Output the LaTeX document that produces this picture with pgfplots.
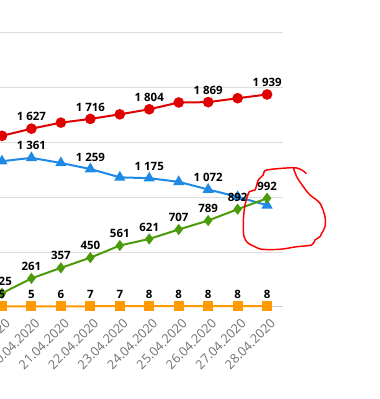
\documentclass[border=0pt]{standalone}
\usepackage{fontspec}
\setmainfont{Open Sans}
\usepackage{pgfplots}
\pgfplotsset{compat=1.18}
\definecolor{cred}{HTML}{E00000}
\definecolor{cblue}{HTML}{1E8AE6}
\definecolor{cgreen}{HTML}{4A9A0A}
\definecolor{corange}{HTML}{FF9A00}
\definecolor{cgrid}{HTML}{DDDDDD}
\definecolor{caxis}{HTML}{C8CCD8}
\definecolor{ctick}{HTML}{707070}
\begin{document}
\begin{tikzpicture}
\clip (0,0) rectangle (284.25pt,299.25pt);
\path[use as bounding box] (0,0) rectangle (284.25pt,299.25pt);
\begin{axis}[
  at={(-9.56pt,69pt)}, anchor=south west,
  scale only axis, width=221.8pt, height=205.5pt,
  xmin=-0.5, xmax=9.54, ymin=0, ymax=2500,
  ytick={0,500,1000,1500,2000,2500}, yticklabels={},
  ymajorgrids, grid style={cgrid, line width=0.75pt},
  axis x line*=bottom, axis y line*=left,
  y axis line style={draw=none},
  x axis line style={caxis, line width=0.75pt, -},
  major tick length=0pt,
  xtick={0,...,9},
  xticklabels={19.04.2020,20.04.2020,21.04.2020,22.04.2020,23.04.2020,24.04.2020,25.04.2020,26.04.2020,27.04.2020,28.04.2020},
  xticklabel style={xshift=4.5pt, yshift=-10.5pt, rotate=45, anchor=east, font=\fontsize{9.5}{10}\selectfont, text=ctick, inner sep=0pt},
  /pgf/number format/assume math mode=true,
  clip=false,
  point meta=explicit symbolic,
  nodes near coords,
  every node near coord/.append style={anchor=center, yshift=9pt, font=\bfseries\fontsize{8.6}{10}\selectfont, text=black},
]
\addplot[cred, line width=1.5pt, mark=*, mark size=3.2pt] coordinates {
 (0,1562) [{}] (1,1627) [1 627] (2,1682) [{}] (3,1716) [1 716] (4,1758) [{}]
 (5,1804) [1 804] (6,1866) [{}] (7,1869) [1 869] (8,1905) [{}] (9,1939) [1 939]
};
\addplot[cblue, line width=1.5pt, mark=triangle*, mark size=3.4pt] coordinates {
 (0,1330) [{}] (1,1361) [1 361] (2,1314) [{}] (3,1259) [1 259] (4,1183) [{}]
 (5,1175) [1 175] (6,1142) [{}] (7,1072) [1 072] (8,1005) [{}] (9,928) [{}]
};
\addplot[cgreen, line width=1.5pt, mark=diamond*, mark size=3pt] coordinates {
 (0,125) [125] (1,261) [261] (2,357) [357] (3,450) [450] (4,561) [561]
 (5,621) [621] (6,707) [707] (7,789) [789] (8,892) [892] (9,992) [992]
};
\addplot[corange, line width=1.5pt, mark=square*, mark size=3pt] coordinates {
 (0,5) [5] (1,5) [5] (2,6) [6] (3,7) [7] (4,7) [7]
 (5,8) [8] (6,8) [8] (7,8) [8] (8,8) [8] (9,8) [8]
};
\end{axis}
\begin{scope}[x=0.75pt, y=-0.75pt, shift={(0,299.25pt)}]
\draw[red, line width=1.1pt, line join=round, line cap=round]
 plot[smooth, tension=0.5] coordinates {
 (306,173.3) (301.7,170) (293.3,167.7) (266.7,170) (263.3,175) (258.3,180)
 (255,190) (249.3,191.7) (245,205) (243.3,221.7) (244,236.7) (248.3,243.3)
 (255,246.7) (261.7,249.3) (280,249.3) (296.7,246.7) (311.7,245) (315,240)
 (320,236.7) (321.7,233.3) (325,226.7) (325,216.7) (320,203.3) (310,195)
 (303.3,186.7) (296.7,176.7) (293.3,167.7)};
\end{scope}
\end{tikzpicture}
\end{document}
